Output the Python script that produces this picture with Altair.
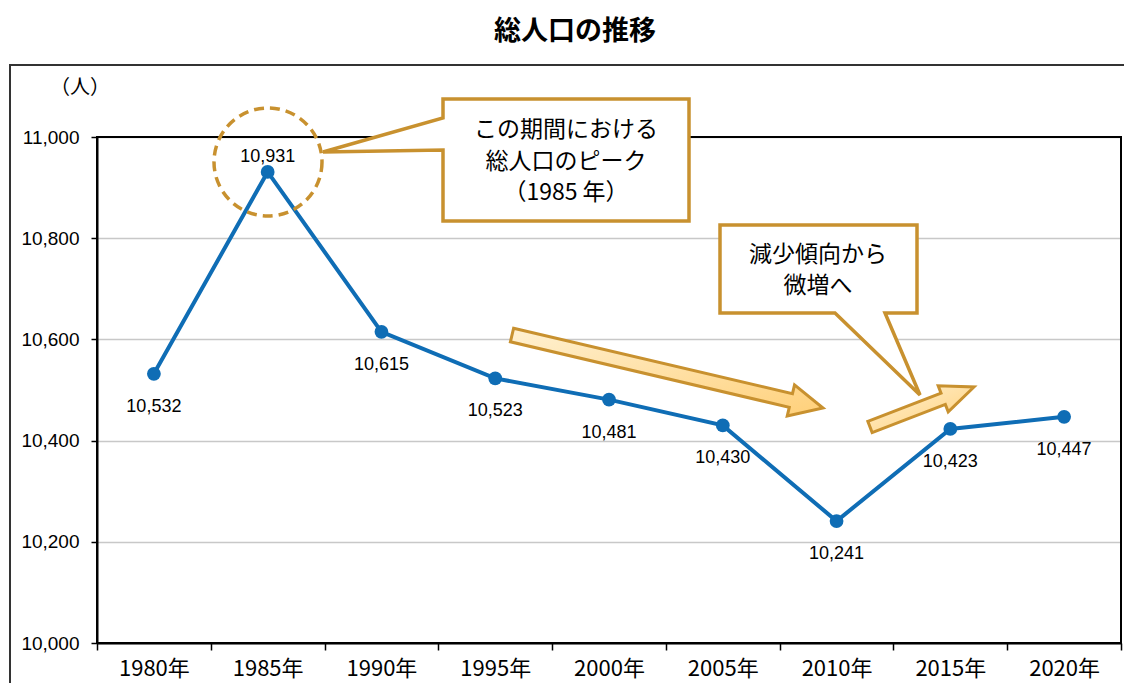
import math
import altair as alt
import pandas as pd

# ---------------- data ----------------
years = ["1980年", "1985年", "1990年", "1995年", "2000年",
         "2005年", "2010年", "2015年", "2020年"]
population = [10532, 10931, 10615, 10523, 10481, 10430, 10241, 10423, 10447]
y_ticks = [10000, 10200, 10400, 10600, 10800, 11000]

title_text = "総人口の推移"
unit_text = "（人）"
callout1_lines = ["この期間における", "総人口のピーク", "（1985 年）"]
callout2_lines = ["減少傾向から", "微増へ"]
peak_year = "1985年"

df = pd.DataFrame({"year": years, "pop": population})

# ---------------- layout / style ----------------
W, H = 1024, 506
OX, OY = 97, 137          # plot origin on the page
BLUE = "#0F6DB5"
GOLD = "#C8912F"
JP = "Noto Sans CJK JP"
NUM = "Liberation Sans"
XLAB = "Liberation Sans Narrow, Noto Sans CJK JP"

one = pd.DataFrame({"a": [0]})


def px(x):
    return x - OX


def py(y):
    return y - OY


def shape_path(points, cx, cy, R):
    return "M" + " L".join(f"{(x - cx) / R:.4f},{(y - cy) / R:.4f}" for x, y in points) + " Z"


def arrow_points(x0, y0, x1, y1, sw, hw, hl):
    dx, dy = x1 - x0, y1 - y0
    L = math.hypot(dx, dy)
    ux, uy = dx / L, dy / L
    nx, ny = -uy, ux
    loc = [(0, -sw), (L - hl, -sw), (L - hl, -hw), (L, 0),
           (L - hl, hw), (L - hl, sw), (0, sw)]
    return [(x0 + a * ux + b * nx, y0 + a * uy + b * ny) for a, b in loc]


def symbol_layer(points, fill, stroke, sw):
    xs = [p[0] for p in points]
    ys = [p[1] for p in points]
    cx, cy = (min(xs) + max(xs)) / 2, (min(ys) + max(ys)) / 2
    R = 100.0
    path = shape_path(points, cx, cy, R)
    return alt.Chart(one).mark_point(
        shape=path, filled=True, fill=fill, stroke=stroke,
        strokeWidth=sw, opacity=1, strokeJoin="miter"
    ).encode(x=alt.value(px(cx)), y=alt.value(py(cy)), size=alt.value((2 * R) ** 2))


def text_layer(s, x, y, size, font=JP, weight="normal"):
    return alt.Chart(pd.DataFrame({"t": [s]})).mark_text(
        font=font, fontSize=size, fontWeight=weight, color="black",
        align="center", baseline="middle"
    ).encode(x=alt.value(px(x)), y=alt.value(py(y)), text="t:N")


# ---------------- main chart ----------------
x_enc = alt.X(
    "year:N", sort=years, bandPosition=0.5,
    scale=alt.Scale(type="band", paddingInner=0, paddingOuter=0),
    axis=alt.Axis(title=None, labelAngle=0, tickBand="extent", grid=False,
                  labelFont=XLAB, labelFontSize=22, labelColor="black",
                  labelPadding=8, tickSize=7, tickColor="black", tickWidth=1.5,
                  domainColor="black", domainWidth=2),
)
y_enc = alt.Y(
    "pop:Q",
    scale=alt.Scale(domain=[10000, 11000], nice=False, zero=False),
    axis=alt.Axis(title=None, values=y_ticks, format=",d", grid=True,
                  gridColor="#C8C8C8", gridWidth=1.5,
                  labelFont=NUM, labelFontSize=19, labelColor="black",
                  labelPadding=12, tickSize=6, tickColor="black", tickWidth=1.5,
                  domainColor="black", domainWidth=2),
)

base = alt.Chart(df).encode(x=x_enc, y=y_enc)

frame = alt.Chart(one).mark_rect(fill=None, stroke="black", strokeWidth=2).encode(
    x=alt.value(0), x2=alt.value(W), y=alt.value(0), y2=alt.value(H))

outer = alt.Chart(one).mark_rect(fill=None, stroke="#333333", strokeWidth=2).encode(
    x=alt.value(px(10)), x2=alt.value(px(1200)), y=alt.value(py(65)), y2=alt.value(py(760)))

line = base.mark_line(color=BLUE, strokeWidth=4)
points = base.mark_point(filled=True, color=BLUE, size=190, opacity=1)

labels_below = base.transform_filter(alt.datum.year != peak_year).mark_text(
    font=NUM, fontSize=18, color="black", dy=33, baseline="middle"
).encode(text=alt.Text("pop:Q", format=","))
labels_above = base.transform_filter(alt.datum.year == peak_year).mark_text(
    font=NUM, fontSize=18, color="black", dy=-15, baseline="middle"
).encode(text=alt.Text("pop:Q", format=","))

# dashed circle around the peak
circle = alt.Chart(one).mark_point(
    shape="circle", filled=False, stroke=GOLD, strokeWidth=3.5,
    strokeDash=[10, 6], opacity=1
).encode(x=alt.value(px(268)), y=alt.value(py(162)), size=alt.value(108 ** 2))

# callout 1
c1 = [(443, 99), (689, 99), (689, 221), (443, 221), (443, 150), (323, 152), (443, 118)]
callout1 = symbol_layer(c1, "white", GOLD, 3.5)
c1_text = [text_layer(s, 566, y, 23) for s, y in zip(callout1_lines, [130, 162, 193])]

# callout 2
c2 = [(720, 225), (917, 225), (917, 313), (885, 313), (920, 395), (835, 313), (720, 313)]
callout2 = symbol_layer(c2, "white", GOLD, 3.5)
c2_text = [text_layer(s, 818, y, 23) for s, y in zip(callout2_lines, [255, 286])]

grad = alt.LinearGradient(
    gradient="linear", x1=0, y1=0, x2=1, y2=1,
    stops=[alt.GradientStop(offset=0, color="#FFF1D2"),
           alt.GradientStop(offset=1, color="#FFD079")])

arrow1 = symbol_layer(arrow_points(512, 335, 823, 408, 7, 16, 33), grad, GOLD, 3)
arrow2 = symbol_layer(arrow_points(870, 427, 974, 387, 6, 14, 33), grad, GOLD, 3)

title = text_layer(title_text, 575, 32, 27, weight="bold")
unit = text_layer(unit_text, 80, 88, 20)

chart = alt.layer(
    outer, line, points, labels_below, labels_above, frame,
    arrow1, arrow2, circle, callout1, *c1_text, callout2, *c2_text,
    title, unit
).properties(
    width=W, height=H,
    autosize=alt.AutoSizeParams(type="none"),
    padding={"left": OX - 8, "top": OY - 8, "right": 3, "bottom": 40},
).configure_view(stroke=None)

chart.save("out.html", embed_options={"renderer": "svg", "actions": False})
